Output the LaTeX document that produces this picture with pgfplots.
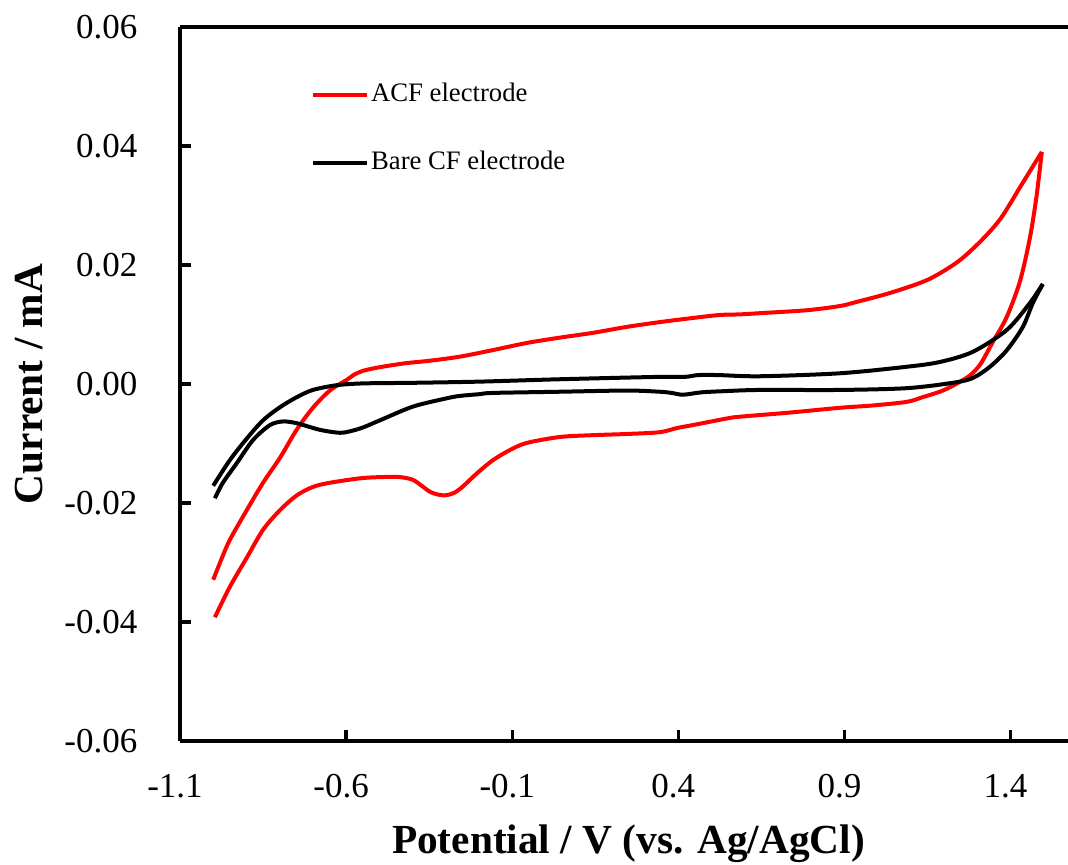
\documentclass[border=0pt]{standalone}
\usepackage{fontspec}
\setmainfont{Liberation Serif}
\usepackage{pgfplots}
\pgfplotsset{compat=1.18}

\begin{document}
\begin{tikzpicture}
\begin{axis}[
  at={(0pt,0pt)}, anchor=south west,
  scale only axis, width=269.1pt, height=214.2pt,
  xmin=-1.1, xmax=1.6, ymin=-0.06, ymax=0.06,
  axis x line*=box, axis y line*=left,
  axis line style={line width=1pt},
  xtick={-1.1,-0.6,-0.1,0.4,0.9,1.4},
  ytick={-0.06,-0.04,-0.02,0,0.02,0.04,0.06},
  xtick pos=bottom, ytick pos=left,
  tick align=inside,
  major tick length=3.2pt,
  every tick/.style={black, line width=1pt},
  scaled x ticks=false, scaled y ticks=false,
  /pgf/number format/assume math mode=true,
  tick label style={font=\fontsize{10.5}{12}\selectfont},
  x tick label style={/pgf/number format/fixed, /pgf/number format/precision=1},
  y tick label style={/pgf/number format/fixed, /pgf/number format/fixed zerofill, /pgf/number format/precision=2},
  xticklabel style={anchor=base, inner sep=0pt, yshift=-16.8pt, xshift=-1.5pt},
  yticklabel style={anchor=east, inner sep=0pt, xshift=-12.6pt},
  every axis x label/.style={at={(axis description cs:0.5,0)}, anchor=base, yshift=-33.6pt,
    font=\fontsize{12.4}{14}\selectfont\bfseries},
  every axis y label/.style={at={(axis description cs:0,0.5)}, xshift=-45.3pt, rotate=90, anchor=center,
    font=\fontsize{12.4}{14}\selectfont\bfseries},
  xlabel={Potential / V (vs. Ag/AgCl)},
  ylabel={Current / mA},
  legend style={draw=none, fill=none, at={(axis description cs:0.1455,0.922)}, anchor=north west,
    font=\fontsize{8}{9.6}\selectfont, inner sep=0pt, row sep=13.2pt, column sep=0.6pt,
    nodes={inner sep=0pt}},
  legend cell align=left,
  legend image code/.code={\draw[#1] (0pt,0pt) -- (16.2pt,0pt);},
  every axis plot/.append style={line width=1.2pt, line join=round},
]

% ACF electrode: anodic sweep
\addplot[red, smooth, tension=0.5] coordinates {
(-1.000,-0.0329) (-0.975,-0.0294) (-0.950,-0.0262) (-0.899,-0.0212) (-0.850,-0.0166)
(-0.799,-0.0124) (-0.749,-0.0077) (-0.700,-0.0040) (-0.649,-0.0011) (-0.598,0.0007)
(-0.575,0.0016) (-0.550,0.0022) (-0.520,0.0026) (-0.480,0.0030) (-0.420,0.0035)
(-0.350,0.0039) (-0.257,0.0046) (-0.158,0.0057) (-0.056,0.0069) (0.044,0.0078)
(0.143,0.0086) (0.245,0.0096) (0.344,0.0104) (0.444,0.0111) (0.525,0.0116)
(0.585,0.0117) (0.645,0.0119) (0.787,0.0124) (0.886,0.0131) (0.937,0.0138)
(1.037,0.0153) (1.150,0.0175) (1.240,0.0205) (1.310,0.0240) (1.370,0.0278)
(1.430,0.0332) (1.494,0.0390)
};
\addlegendentry{ACF electrode}
% ACF electrode: cathodic sweep
\addplot[red, smooth, tension=0.5, forget plot] coordinates {
(1.494,0.0390) (1.478,0.0315) (1.458,0.0245) (1.428,0.0172) (1.388,0.0112)
(1.347,0.0071) (1.3285,0.0052) (1.3075,0.0032) (1.277,0.0014) (1.226,-0.0003)
(1.187,-0.0013) (1.136,-0.0022) (1.088,-0.0030) (0.987,-0.0036) (0.886,-0.0040)
(0.736,-0.0048) (0.585,-0.0055) (0.546,-0.0058) (0.444,-0.0069) (0.396,-0.0074)
(0.344,-0.0081) (0.245,-0.0084) (0.143,-0.0086) (0.044,-0.0089) (-0.056,-0.0099)
(-0.107,-0.0111) (-0.158,-0.0128) (-0.206,-0.0150) (-0.248,-0.0172) (-0.275,-0.0183)
(-0.300,-0.0187) (-0.322,-0.0186) (-0.348,-0.0181) (-0.375,-0.0170) (-0.399,-0.0161)
(-0.430,-0.0157) (-0.459,-0.0156) (-0.549,-0.0158) (-0.649,-0.0166) (-0.700,-0.0173)
(-0.748,-0.0187) (-0.799,-0.0212) (-0.850,-0.0245) (-0.898,-0.0291) (-0.950,-0.0341)
(-0.995,-0.0392)
};

% Bare CF electrode: anodic sweep
\addplot[black, smooth, tension=0.5] coordinates {
(-1.000,-0.0171) (-0.950,-0.0128) (-0.898,-0.0091) (-0.850,-0.0061) (-0.799,-0.0039)
(-0.748,-0.0022) (-0.700,-0.0010) (-0.628,-0.0002) (-0.549,0.0001) (-0.399,0.0002)
(-0.197,0.0004) (0.044,0.0008) (0.344,0.0012) (0.420,0.0012) (0.460,0.0015)
(0.520,0.0015) (0.645,0.0013) (0.886,0.0018) (1.088,0.0029) (1.187,0.0037)
(1.286,0.0054) (1.389,0.0091) (1.458,0.0136) (1.497,0.0168)
};
\addlegendentry{Bare CF electrode}
% Bare CF electrode: cathodic sweep
\addplot[black, smooth, tension=0.5, forget plot] coordinates {
(1.497,0.0168) (1.467,0.0136) (1.437,0.0096) (1.389,0.0057) (1.338,0.0029)
(1.286,0.0010) (1.226,0.0002) (1.088,-0.0007) (0.886,-0.0010) (0.645,-0.0010)
(0.540,-0.0012) (0.470,-0.0014) (0.414,-0.0018) (0.380,-0.0015) (0.344,-0.0013)
(0.245,-0.0011) (0.044,-0.0013) (-0.158,-0.0015) (-0.197,-0.0017) (-0.257,-0.0020)
(-0.297,-0.0024) (-0.399,-0.0038) (-0.498,-0.0061) (-0.549,-0.0073) (-0.585,-0.0079)
(-0.619,-0.0082) (-0.679,-0.0077) (-0.748,-0.0066) (-0.790,-0.0063) (-0.829,-0.0069)
(-0.880,-0.0094) (-0.929,-0.0133) (-0.971,-0.0166) (-0.995,-0.0192)
};
\end{axis}
\pgfresetboundingbox
\useasboundingbox (-54pt,-36.9pt) rectangle (266.4pt,222.3pt);
\end{tikzpicture}
\end{document}
